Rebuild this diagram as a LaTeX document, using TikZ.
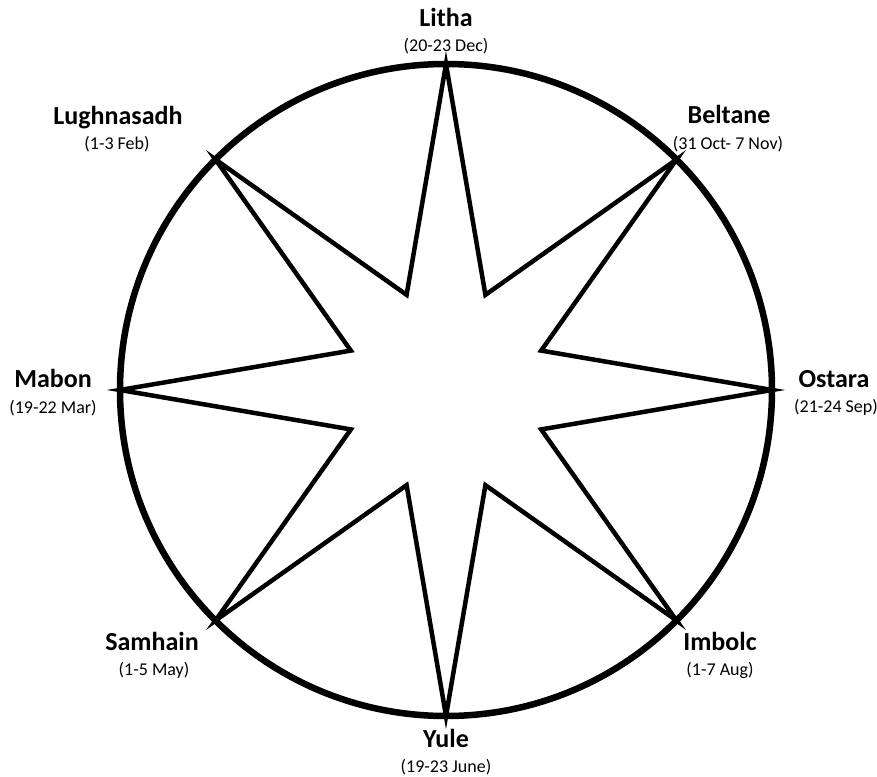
\documentclass[tikz,border=0pt]{standalone}
\usepackage{fontspec}
\setmainfont{Carlito}
\begin{document}
\begin{tikzpicture}[x=1pt, y=-1pt,
  fest/.style={font=\fontsize{26}{30}\selectfont\bfseries, anchor=base, inner sep=0pt},
  when/.style={font=\fontsize{18}{20}\selectfont, anchor=base, inner sep=0pt}]
\useasboundingbox (0,0) rectangle (877,776);
\coordinate (c) at (446,390);
% wheel
\draw[line width=6.5pt] (c) circle (326);
\draw[line width=4.5pt, shift={(446,390)}] (90:326)
  \foreach \a in {90,135,...,360} {-- (\a+22.5:103) -- (\a+45:326)} -- (67.5:103) -- cycle;
% festivals
\node[fest] (litha) at (446,27) {Litha};
\node[when] (lithad) at (446,52) {(20-23 Dec)};
\node[fest] (lugh) at (118,124) {Lughnasadh};
\node[when] (lughd) at (117,149) {(1-3 Feb)};
\node[fest] (belt) at (729,123) {Beltane};
\node[when] (beltd) at (728,149) {(31 Oct- 7 Nov)};
\node[fest] (mabon) at (53,387) {Mabon};
\node[when] (mabond) at (53,413) {(19-22 Mar)};
\node[fest] (ostara) at (834,387) {Ostara};
\node[when] (ostarad) at (836,412) {(21-24 Sep)};
\node[fest] (samh) at (152,650) {Samhain};
\node[when] (samhd) at (154,675) {(1-5 May)};
\node[fest] (imb) at (720,650) {Imbolc};
\node[when] (imbd) at (720,675) {(1-7 Aug)};
\node[fest] (yule) at (446,747) {Yule};
\node[when] (yuled) at (446,772) {(19-23 June)};
\end{tikzpicture}
\end{document}
